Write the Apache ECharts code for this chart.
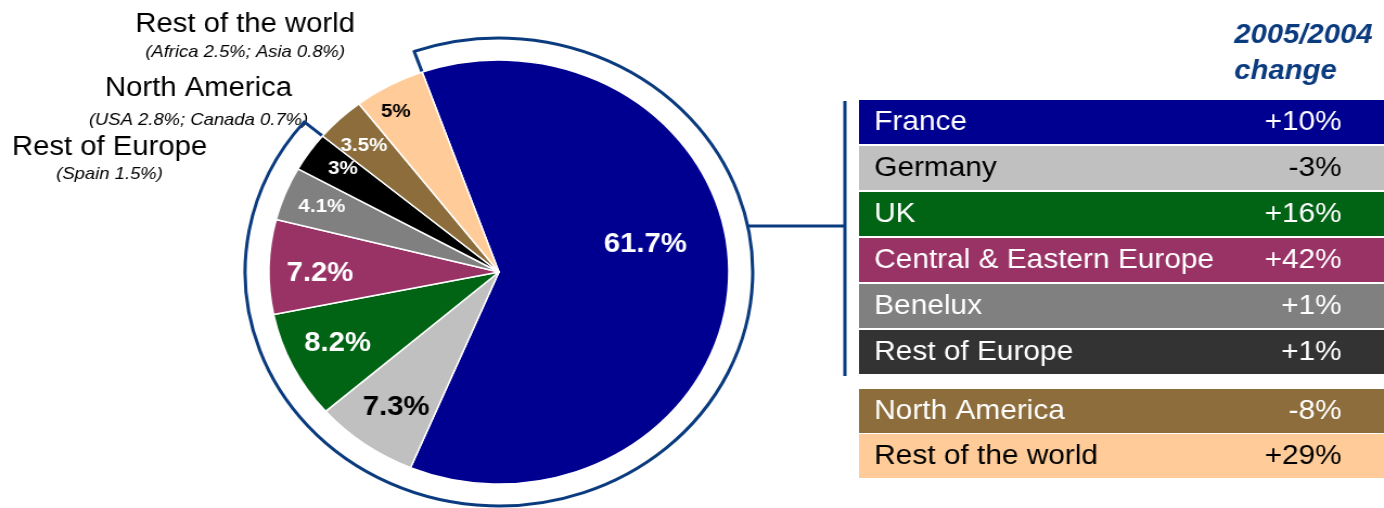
<!DOCTYPE html>
<html>
<head>
<meta charset="utf-8">
<script src="https://cdn.jsdelivr.net/npm/echarts@6/dist/echarts.min.js"></script>
<style>
  html, body { margin: 0; padding: 0; background: #fff; overflow: hidden; }
  /* the source picture is a little wider than tall, so stretch the drawing */
  #main { width: 1276px; height: 508px; transform-origin: 0 0; transform: scaleX(1.0846); }
</style>
</head>
<body>
<div id="main"></div>
<script>
// data
const regions = ['France', 'Germany', 'UK', 'Central & Eastern Europe', 'Benelux', 'Rest of Europe', 'North America', 'Rest of the world'];
const shares = [61.7, 7.3, 8.2, 7.2, 4.1, 3, 3.5, 5];
const changes = ['+10%', '-3%', '+16%', '+42%', '+1%', '+1%', '-8%', '+29%'];
const europeCount = 6; // first 6 regions are europe
const calloutTitles = ['Rest of the world', 'North America', 'Rest of Europe'];
const calloutNotes = ['(Africa 2.5%; Asia 0.8%)', '(USA 2.8%; Canada 0.7%)', '(Spain 1.5%)'];
const headerLines = ['2005/2004', 'change'];

// styles
const sliceColors = ['#000090', '#c0c0c0', '#006414', '#993366', '#808080', '#000000', '#8c6d3b', '#ffcc99'];
const rowColors = ['#000090', '#c0c0c0', '#006414', '#993366', '#808080', '#333333', '#8c6d3b', '#ffcc99'];
const textColors = ['#fff', '#000', '#fff', '#fff', '#fff', '#fff', '#fff', '#000'];
const pieFont = [27, 27, 27, 27, 19, 19, 19, 19];
const labelOffsets = [[26, -30], [-31, 47], [-51, 23], [-56, 4], [-62, -25], [-54, -41], [-49, -48], [-43, -64]];
const lineBlue = '#0b3b7f';
const FONT = '"Liberation Sans", Arial, sans-serif';

const chart = echarts.init(document.getElementById('main'));

const europeSum = shares.slice(0, europeCount).reduce((a, b) => a + b, 0);
const otherSum = shares.slice(europeCount).reduce((a, b) => a + b, 0);

const graphics = [];
// callout texts on the left
const calloutY = [[25, 52], [89, 120], [148, 174]];
const calloutX = [226, 183, 101];
calloutTitles.forEach((t, i) => {
  graphics.push({ type: 'text', x: calloutX[i], y: calloutY[i][0],
    style: { text: t, font: '27px ' + FONT, fill: '#000', align: 'center', verticalAlign: 'middle' } });
  graphics.push({ type: 'text', x: calloutX[i], y: calloutY[i][1],
    style: { text: calloutNotes[i], font: 'italic 17px ' + FONT, fill: '#000', align: 'center', verticalAlign: 'middle' } });
});
// header
headerLines.forEach((t, i) => {
  graphics.push({ type: 'text', x: 1138, y: i === 0 ? 36 : 72,
    style: { text: t, font: 'italic bold 27px ' + FONT, fill: lineBlue, align: 'left', verticalAlign: 'middle' } });
});
// leader lines to the table
graphics.push({ type: 'line', shape: { x1: 690, y1: 226, x2: 779, y2: 226 }, style: { stroke: lineBlue, lineWidth: 3 } });
graphics.push({ type: 'line', shape: { x1: 779, y1: 101, x2: 779, y2: 376 }, style: { stroke: lineBlue, lineWidth: 3 } });
// table rows
regions.forEach((name, i) => {
  const top = i < europeCount ? 100 + 46 * i : 389 + 45 * (i - europeCount);
  graphics.push({ type: 'rect', shape: { x: 792, y: top, width: 490, height: 44 }, style: { fill: rowColors[i] } });
  graphics.push({ type: 'text', x: 806, y: top + 22,
    style: { text: name, font: '27.5px ' + FONT, fill: textColors[i], align: 'left', verticalAlign: 'middle' } });
  graphics.push({ type: 'text', x: 1237, y: top + 22,
    style: { text: changes[i], font: '27.5px ' + FONT, fill: textColors[i], align: 'right', verticalAlign: 'middle' } });
});

const option = {
  animation: false,
  backgroundColor: '#fff',
  series: [
    {
      // blue outline around the europe part
      type: 'pie',
      silent: true,
      z: 1,
      center: [460, 272],
      radius: [190, 234],
      startAngle: 109.5,
      label: { show: false },
      labelLine: { show: false },
      data: [
        { value: europeSum, itemStyle: { color: 'rgba(0,0,0,0)', borderColor: lineBlue, borderWidth: 3 } },
        { value: otherSum, itemStyle: { color: 'rgba(0,0,0,0)', borderWidth: 0 } }
      ]
    },
    {
      type: 'pie',
      silent: true,
      z: 2,
      center: [460, 272],
      radius: [0, 212],
      startAngle: 109.5,
      itemStyle: { borderColor: '#fff', borderWidth: 1.5 },
      label: { show: true, position: 'inside', formatter: '{c}%', fontFamily: FONT, fontWeight: 'bold' },
      labelLine: { show: false },
      labelLayout: function (params) {
        const o = labelOffsets[params.dataIndex];
        return { dx: o[0], dy: o[1] };
      },
      data: regions.map((name, i) => ({
        name: name,
        value: shares[i],
        itemStyle: { color: sliceColors[i] },
        label: { color: textColors[i], fontSize: pieFont[i] }
      }))
    }
  ],
  graphic: graphics
};

chart.setOption(option);
</script>
</body>
</html>
